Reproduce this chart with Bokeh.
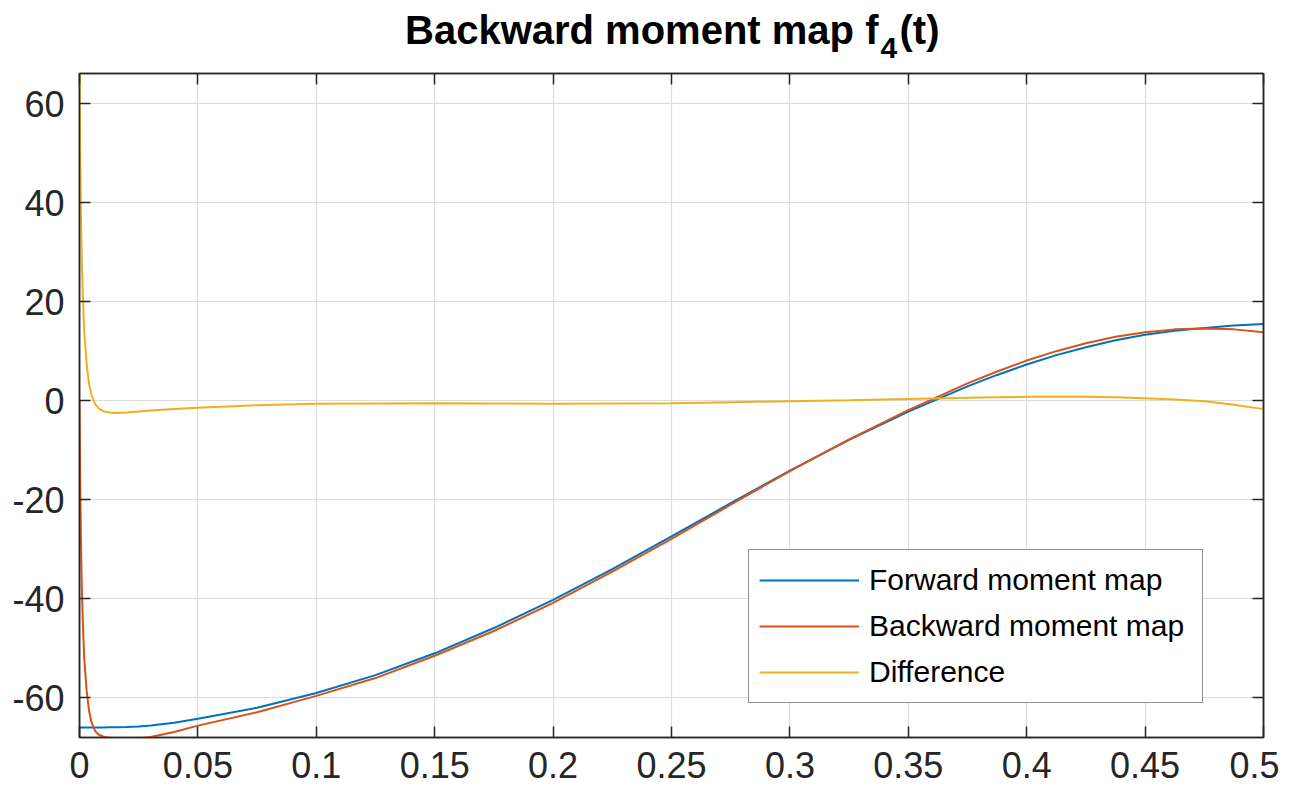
from bokeh.plotting import figure
from bokeh.layouts import column
from bokeh.models import Range1d, LinearAxis, FixedTicker, Legend, LegendItem, Grid
from bokeh.core.properties import value
from bokeh.embed import file_html
from bokeh.resources import INLINE

# ---- data ----
t_values = [0, 0.0003, 0.0006, 0.001, 0.0015, 0.002, 0.003, 0.004, 0.005, 0.0065,
            0.008, 0.01, 0.0125, 0.015, 0.02, 0.025, 0.03, 0.04, 0.05, 0.075,
            0.1, 0.125, 0.15, 0.175, 0.2, 0.225, 0.25, 0.275, 0.3, 0.325,
            0.35, 0.375, 0.3875, 0.4, 0.4125, 0.425, 0.4375, 0.45, 0.4625, 0.475,
            0.4875, 0.5]
forward_values = [-66.0, -66.0, -66.0, -66.0, -66.0, -66.0, -66.0, -66.0, -66.0, -66.0,
                  -66.0, -66.0, -65.95, -65.95, -65.9, -65.8, -65.6, -65.0, -64.2, -62.0,
                  -59.0, -55.4, -51.0, -45.9, -40.2, -34.0, -27.4, -20.7, -14.1, -7.9,
                  -2.2, 2.9, 5.2, 7.3, 9.2, 10.8, 12.2, 13.3, 14.1, 14.7,
                  15.2, 15.5]
backward_values = [0, -16, -28, -38, -46, -52, -58.5, -62.5, -64.8, -66.6,
                   -67.4, -67.8, -68.1, -68.3, -68.4, -68.2, -67.9, -66.9, -65.6, -62.9,
                   -59.6, -56.0, -51.5, -46.5, -40.8, -34.5, -27.9, -21.0, -14.2, -7.8,
                   -1.9, 3.5, 5.9, 8.1, 10.0, 11.6, 12.9, 13.8, 14.4, 14.6,
                   14.4, 13.8]
difference_values = [66.5, 50, 38, 28, 20, 14, 7.5, 3.5, 1.2, -0.6,
                     -1.5, -2.1, -2.4, -2.5, -2.4, -2.2, -2.0, -1.7, -1.4, -0.9,
                     -0.6, -0.55, -0.5, -0.55, -0.6, -0.55, -0.5, -0.3, -0.1, 0.1,
                     0.35, 0.6, 0.7, 0.8, 0.82, 0.8, 0.7, 0.5, 0.25, -0.1,
                     -0.8, -1.7]

series_names = ["Forward moment map", "Backward moment map", "Difference"]
series_colors = ["#0072BD", "#D95319", "#EDB120"]

x_ticks = [0, 0.05, 0.1, 0.15, 0.2, 0.25, 0.3, 0.35, 0.4, 0.45, 0.5]
x_tick_labels = ["0", "0.05", "0.1", "0.15", "0.2", "0.25", "0.3", "0.35", "0.4", "0.45", "0.5"]
y_ticks = [-60, -40, -20, 0, 20, 40, 60]
y_tick_labels = ["-60", "-40", "-20", "0", "20", "40", "60"]

title_parts = ["Backward moment map f", "4", "(t)"]

FONT = "Liberation Sans"
AXIS_COLOR = "#262626"
W = 1279
TITLE_H = 70

# ---- title strip (separate figure so the subscript can be placed) ----
tp = figure(width=W, height=TITLE_H, output_backend="svg", toolbar_location=None,
            x_range=Range1d(0, 0.5), y_range=Range1d(0, TITLE_H),
            min_border_left=79, min_border_right=16, min_border_top=0, min_border_bottom=0,
            x_axis_type=None, y_axis_type=None)
tp.title.visible = False
tp.outline_line_color = None
tp.xgrid.visible = False
tp.ygrid.visible = False
tp.background_fill_color = "white"
tp.border_fill_color = "white"
tp.text(x=[0.3374], y=[TITLE_H - 29], text=[title_parts[0]], text_align="right",
        text_baseline="alphabetic", text_font=value(FONT), text_font_style="bold",
        text_font_size="40px", text_color="black")
tp.text(x=[0.3383], y=[TITLE_H - 47], text=[title_parts[1]], text_align="left",
        text_baseline="alphabetic", text_font=value(FONT), text_font_style="bold",
        text_font_size="30px", text_color="black")
tp.text(x=[0.3463], y=[TITLE_H - 29], text=[title_parts[2]], text_align="left",
        text_baseline="alphabetic", text_font=value(FONT), text_font_style="bold",
        text_font_size="40px", text_color="black")

# ---- main plot ----
p = figure(width=W, height=792 - TITLE_H, output_backend="svg", toolbar_location=None,
           x_range=Range1d(0, 0.5), y_range=Range1d(-68, 66.06),
           min_border_left=79, min_border_right=16, min_border_top=73 - TITLE_H,
           min_border_bottom=55, x_axis_type=None, y_axis_type=None)
p.title.visible = False
p.background_fill_color = "white"
p.border_fill_color = "white"
p.outline_line_color = AXIS_COLOR
p.outline_line_width = 1.5
p.xgrid.visible = False
p.ygrid.visible = False

def make_axis(ticks, labels, show_labels):
    ax = LinearAxis(ticker=FixedTicker(ticks=ticks))
    ax.major_label_overrides = {tk: lb for tk, lb in zip(ticks, labels)}
    ax.axis_line_color = AXIS_COLOR
    ax.axis_line_width = 1.5
    ax.major_tick_line_color = AXIS_COLOR
    ax.major_tick_line_width = 1.5
    ax.major_tick_in = 11
    ax.major_tick_out = 0
    ax.minor_tick_line_color = None
    ax.major_label_text_font = FONT
    ax.major_label_text_color = "#262626"
    if show_labels:
        ax.major_label_text_font_size = "36px"
    else:
        ax.major_label_text_font_size = "0px"
        ax.major_label_text_alpha = 0
        ax.major_label_standoff = 0
    return ax

xb = make_axis(x_ticks, x_tick_labels, True)
xb.major_label_standoff = 14
p.add_layout(xb, "below")
yl = make_axis(y_ticks, y_tick_labels, True)
yl.major_label_standoff = 15
p.add_layout(yl, "left")
p.add_layout(make_axis(x_ticks, x_tick_labels, False), "above")
p.add_layout(make_axis(y_ticks, y_tick_labels, False), "right")

p.add_layout(Grid(dimension=0, ticker=FixedTicker(ticks=x_ticks),
                  grid_line_color="#dcdcdc", grid_line_width=1.2))
p.add_layout(Grid(dimension=1, ticker=FixedTicker(ticks=y_ticks),
                  grid_line_color="#dcdcdc", grid_line_width=1.2))

renderers = []
for vals, c in zip([forward_values, backward_values, difference_values], series_colors):
    r = p.line(t_values, vals, line_color=c, line_width=2)
    renderers.append(r)

legend = Legend(items=[LegendItem(label=n, renderers=[r]) for n, r in zip(series_names, renderers)],
                location=(669, 34))
legend.label_text_font = FONT
legend.label_text_font_size = "30px"
legend.label_text_color = "black"
legend.glyph_width = 100
legend.glyph_height = 40
legend.label_height = 40
legend.label_width = 323
legend.label_standoff = 10
legend.spacing = 6
legend.padding = 10
legend.margin = 0
legend.border_line_color = AXIS_COLOR
legend.border_line_width = 1.5
legend.background_fill_color = "white"
legend.background_fill_alpha = 1
p.add_layout(legend, "center")

layout = column(tp, p, spacing=0)
open("out.html", "w").write(file_html(layout, INLINE))
